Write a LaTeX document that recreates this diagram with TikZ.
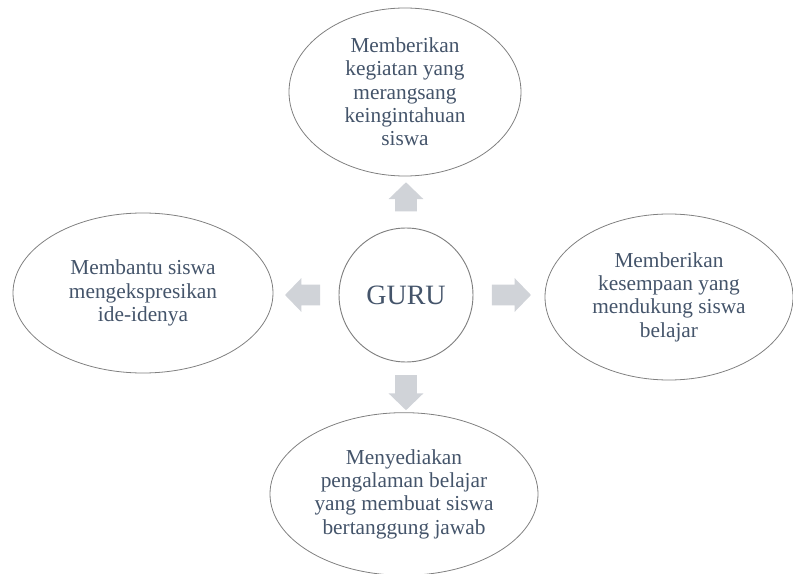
\documentclass[tikz,border=0pt]{standalone}
\usepackage{fontspec}
\setmainfont{Liberation Serif}
\usetikzlibrary{shapes.geometric,shapes.arrows}
\definecolor{txt}{HTML}{44546A}
\definecolor{rim}{HTML}{808080}
\definecolor{arr}{HTML}{D0D3D8}
\begin{document}
\begin{tikzpicture}[x=0.75pt,y=-0.75pt,
  idea/.style={ellipse, draw=rim, line width=0.6pt, inner sep=0pt, align=center,
    text=txt, font=\fontsize{16}{17.5}\selectfont},
  hub/.style={circle, draw=rim, line width=0.7pt, minimum size=100.5pt, inner sep=0pt,
    text=txt, font=\fontsize{21}{24}\selectfont},
  pointer/.style={single arrow, fill=arr, draw=none, inner sep=0pt,
    single arrow head extend=4.9pt, single arrow tip angle=92}
]
\useasboundingbox (0,0) rectangle (793,574);

% central node
\node[hub] (guru) at (406,295) {GURU};

% surrounding activities
\node[idea, minimum width=174pt, minimum height=126pt] (top) at (405,92)
  {Memberikan\\kegiatan yang\\merangsang\\keingintahuan\\siswa};
\node[idea, minimum width=186pt, minimum height=124.5pt] (right) at (669,297)
  {Memberikan\\kesempaan yang\\mendukung siswa\\belajar};
\node[idea, minimum width=201pt, minimum height=122pt] (bottom) at (404,494)
  {Menyediakan\\pengalaman belajar\\yang membuat siswa\\bertanggung jawab};
\node[idea, minimum width=195pt, minimum height=120pt] (left) at (143,293)
  {Membantu siswa\\mengekspresikan\\ide-idenya};

% block arrows pointing outward from the hub
\node[pointer, minimum height=21.75pt, rotate=90] (aup) at (406,202) {\rule{0pt}{15.75pt}};
\node[pointer, minimum height=26.25pt, rotate=270] (adown) at (406,387.5) {\rule{0pt}{15.75pt}};
\node[pointer, minimum height=26.25pt, rotate=180] (aleft) at (307.5,295) {\rule{0pt}{15pt}};
\node[pointer, minimum height=29.25pt] (aright) at (506.5,295) {\rule{0pt}{15pt}};
\end{tikzpicture}
\end{document}
